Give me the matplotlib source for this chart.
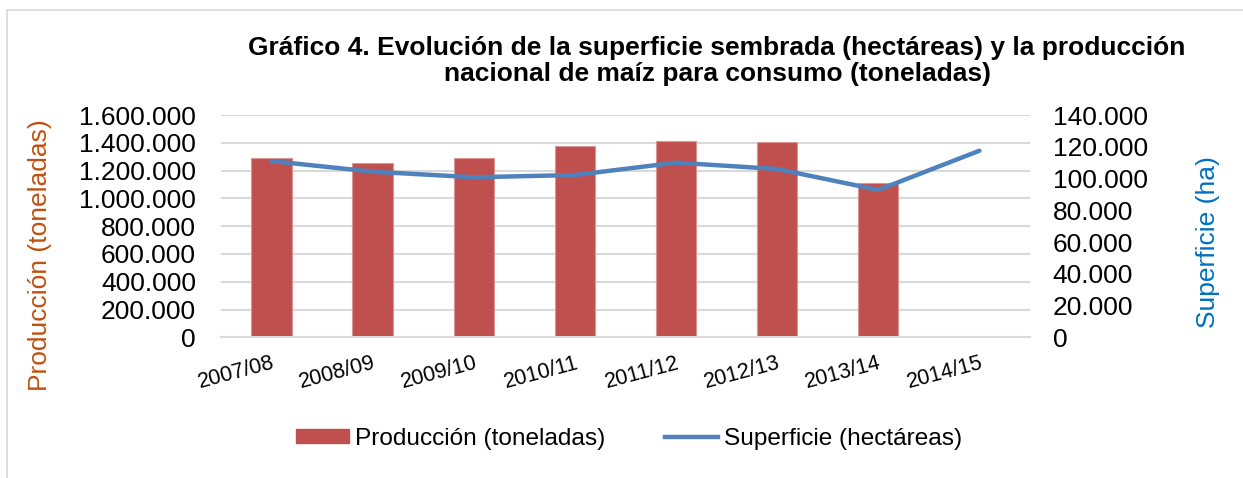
import matplotlib
matplotlib.use("Agg")
import matplotlib.pyplot as plt
from matplotlib.lines import Line2D
from matplotlib.patches import Patch
from matplotlib.ticker import FuncFormatter

plt.rcParams['font.family'] = ['Liberation Sans', 'DejaVu Sans']

campanas = ['2007/08', '2008/09', '2009/10', '2010/11', '2011/12', '2012/13', '2013/14', '2014/15']
produccion = [1288000, 1257000, 1288000, 1375000, 1411000, 1406000, 1113000, None]
superficie = [111000, 104300, 100800, 102200, 110000, 106000, 92800, 117500]

ticks_prod = [0, 200000, 400000, 600000, 800000, 1000000, 1200000, 1400000, 1600000]
ticks_sup = [0, 20000, 40000, 60000, 80000, 100000, 120000, 140000]

bar_color = '#C0504D'
line_color = '#4F81BD'
grid_color = '#D9D9D9'


def miles(v, pos=None):
    return f'{int(v):,}'.replace(',', '.')


fig = plt.figure(figsize=(12.43, 4.78), dpi=100)
ax = fig.add_axes([0.1778, 0.2943, 0.6508, 0.4651])
ax2 = ax.twinx()

x = list(range(len(campanas)))
xb = [i for i, v in zip(x, produccion) if v is not None]
yb = [v for v in produccion if v is not None]
ax.bar(xb, yb, width=0.4, color=bar_color, edgecolor='#D99694', linewidth=0.8, zorder=2)
ax2.plot(x, superficie, color=line_color, linewidth=3.2, solid_capstyle='round', zorder=3)

ax.set_xlim(-0.5, len(campanas) - 0.5)
ax.set_ylim(0, 1600000)
ax2.set_ylim(0, 140000)
ax.set_yticks(ticks_prod)
ax2.set_yticks(ticks_sup)
ax.yaxis.set_major_formatter(FuncFormatter(miles))
ax2.yaxis.set_major_formatter(FuncFormatter(miles))
ax.tick_params(axis='y', labelsize=19, length=0, pad=18)
ax2.tick_params(axis='y', labelsize=19, length=0, pad=16.5)

ax.set_xticks(x)
ax.set_xticklabels(campanas, fontsize=15.5, rotation=15, ha='right', va='top', rotation_mode='anchor')
ax.tick_params(axis='x', length=0, pad=11)

ax.grid(axis='y', color=grid_color, linewidth=1.5, zorder=0)
ax.set_axisbelow(True)
for a in (ax, ax2):
    for s in a.spines.values():
        s.set_visible(False)
ax.spines['bottom'].set_visible(True)
ax.spines['bottom'].set_color(grid_color)
ax.spines['bottom'].set_linewidth(1.5)

fig.text(40 / 1243, 1 - 255 / 478, 'Producción (toneladas)', rotation=90, fontsize=19,
         color='#C0500F', ha='center', va='center')
fig.text(1208 / 1243, 1 - 242 / 478, 'Superficie (ha)', rotation=90, fontsize=19,
         color='#0070C0', ha='center', va='center')

fig.text(717 / 1243, 1 - 61 / 478,
         'Gráfico 4. Evolución de la superficie sembrada (hectáreas) y la producción\n'
         'nacional de maíz para consumo (toneladas)',
         fontsize=19, fontweight='bold', ha='center', va='center', linespacing=1.15)

handles = [Patch(facecolor=bar_color, edgecolor=bar_color),
           Line2D([0], [0], color=line_color, linewidth=3.2)]
fig.legend(handles, ['Producción (toneladas)', 'Superficie (hectáreas)'],
           loc='center', bbox_to_anchor=(629 / 1243, 1 - 439 / 478), ncol=2, frameon=False,
           fontsize=17.6, handlelength=2.15, handleheight=0.5, handletextpad=0.25,
           columnspacing=2.45)

fig.add_artist(Line2D([7 / 1243, 1], [1 - 10 / 478, 1 - 10 / 478], transform=fig.transFigure,
                      color='#D9D9D9', linewidth=1.2))
fig.add_artist(Line2D([7 / 1243, 7 / 1243], [0, 1 - 10 / 478], transform=fig.transFigure,
                      color='#D9D9D9', linewidth=1.2))

fig.savefig('out.png', dpi=100)
